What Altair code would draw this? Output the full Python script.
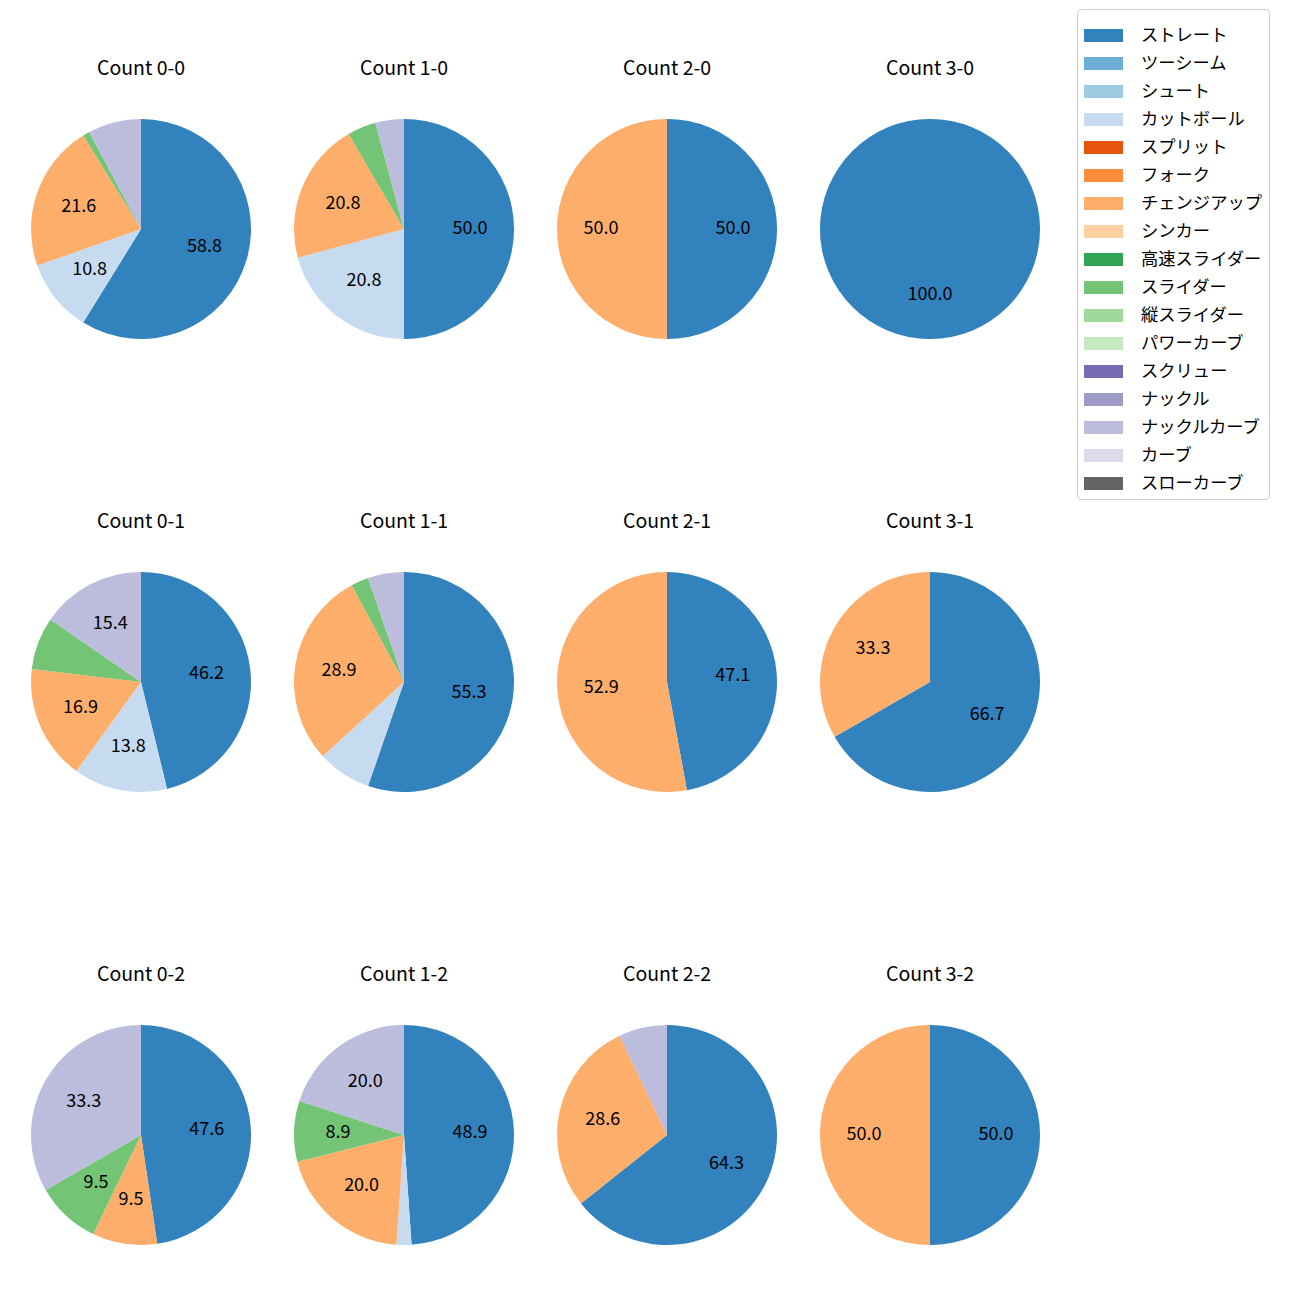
import altair as alt
import pandas as pd

pitches = ["ストレート", "ツーシーム", "シュート", "カットボール", "スプリット", "フォーク",
           "チェンジアップ", "シンカー", "高速スライダー", "スライダー", "縦スライダー",
           "パワーカーブ", "スクリュー", "ナックル", "ナックルカーブ", "カーブ", "スローカーブ"]
colors = ["#3182bd", "#6baed6", "#9ecae1", "#c6dbef", "#e6550d", "#fd8d3c",
          "#fdae6b", "#fdd0a2", "#31a354", "#74c476", "#a1d99b", "#c7e9c0",
          "#756bb1", "#9e9ac8", "#bcbddc", "#dadaeb", "#636363"]

counts = ["Count 0-0", "Count 1-0", "Count 2-0", "Count 3-0",
          "Count 0-1", "Count 1-1", "Count 2-1", "Count 3-1",
          "Count 0-2", "Count 1-2", "Count 2-2", "Count 3-2"]

c00_pitch = ["ストレート", "カットボール", "チェンジアップ", "スライダー", "ナックルカーブ"]
c00_pct = [58.8, 10.8, 21.6, 1.0, 7.8]
c10_pitch = ["ストレート", "カットボール", "チェンジアップ", "スライダー", "ナックルカーブ"]
c10_pct = [50.0, 20.8, 20.8, 4.2, 4.2]
c20_pitch = ["ストレート", "チェンジアップ"]
c20_pct = [50.0, 50.0]
c30_pitch = ["ストレート"]
c30_pct = [100.0]
c01_pitch = ["ストレート", "カットボール", "チェンジアップ", "スライダー", "ナックルカーブ"]
c01_pct = [46.2, 13.8, 16.9, 7.7, 15.4]
c11_pitch = ["ストレート", "カットボール", "チェンジアップ", "スライダー", "ナックルカーブ"]
c11_pct = [55.3, 7.9, 28.9, 2.6, 5.3]
c21_pitch = ["ストレート", "チェンジアップ"]
c21_pct = [47.1, 52.9]
c31_pitch = ["ストレート", "チェンジアップ"]
c31_pct = [66.7, 33.3]
c02_pitch = ["ストレート", "チェンジアップ", "スライダー", "ナックルカーブ"]
c02_pct = [47.6, 9.5, 9.5, 33.3]
c12_pitch = ["ストレート", "カットボール", "チェンジアップ", "スライダー", "ナックルカーブ"]
c12_pct = [48.9, 2.2, 20.0, 8.9, 20.0]
c22_pitch = ["ストレート", "チェンジアップ", "ナックルカーブ"]
c22_pct = [64.3, 28.6, 7.1]
c32_pitch = ["ストレート", "チェンジアップ"]
c32_pct = [50.0, 50.0]

series = [(c00_pitch, c00_pct), (c10_pitch, c10_pct), (c20_pitch, c20_pct), (c30_pitch, c30_pct),
          (c01_pitch, c01_pct), (c11_pitch, c11_pct), (c21_pitch, c21_pct), (c31_pitch, c31_pct),
          (c02_pitch, c02_pct), (c12_pitch, c12_pct), (c22_pitch, c22_pct), (c32_pitch, c32_pct)]

rows = []
for cnt, (ps, vs) in zip(counts, series):
    for p, v in zip(ps, vs):
        rows.append({"count": cnt, "pitch": p, "idx": pitches.index(p), "pct": v})
df = pd.DataFrame(rows)

FONT = "Noto Sans CJK JP"
CX, CY = 133, 220
TY = 60

base = alt.Chart(df).transform_calculate(
    label="datum.pct >= 8 ? format(datum.pct, '.1f') : ''"
)

arcs = base.mark_arc(outerRadius=110).encode(
    x=alt.value(CX), y=alt.value(CY),
    theta=alt.Theta("pct:Q", stack=True),
    color=alt.Color("pitch:N", scale=alt.Scale(domain=pitches, range=colors),
                    legend=alt.Legend(
                        title=None, orient="none", legendX=1069, legendY=0,
                        symbolType="M-1,-0.3333H1V0.3333H-1Z", symbolSize=1521,
                        symbolStrokeWidth=0, symbolOpacity=1,
                        labelFontSize=17.3, labelFont=FONT, labelColor="#000000",
                        labelOffset=18, rowPadding=0, padding=7,
                        strokeColor="#cccccc", fillColor="#ffffff", cornerRadius=4,
                        labelLimit=300)),
    order=alt.Order("idx:Q"),
)

texts = base.mark_text(fontSize=18, font=FONT, color="#000000").encode(
    x=alt.value(CX), y=alt.value(CY),
    theta=alt.Theta("pct:Q", stack=True),
    radius=alt.value(66),
    detail="pitch:N",
    order=alt.Order("idx:Q"),
    text="label:N",
)

titles = alt.Chart(df).transform_aggregate(
    n="count()", groupby=["count"]
).mark_text(fontSize=19.5, font=FONT, color="#000000").encode(
    x=alt.value(CX), y=alt.value(TY), text="count:N"
)

chart = alt.layer(arcs, texts, titles).properties(width=263, height=360).facet(
    facet=alt.Facet("count:N", sort=counts,
                    header=alt.Header(labels=False, title=None, labelExpr="''",
                                      labelFontSize=1, labelPadding=0)),
    columns=4,
    spacing=alt.RowColnumber(row=92, column=0),
).resolve_scale(theta="independent").properties(padding=0).configure_view(strokeOpacity=0)

chart.save("out.html", embed_options={"renderer": "svg", "actions": False})
